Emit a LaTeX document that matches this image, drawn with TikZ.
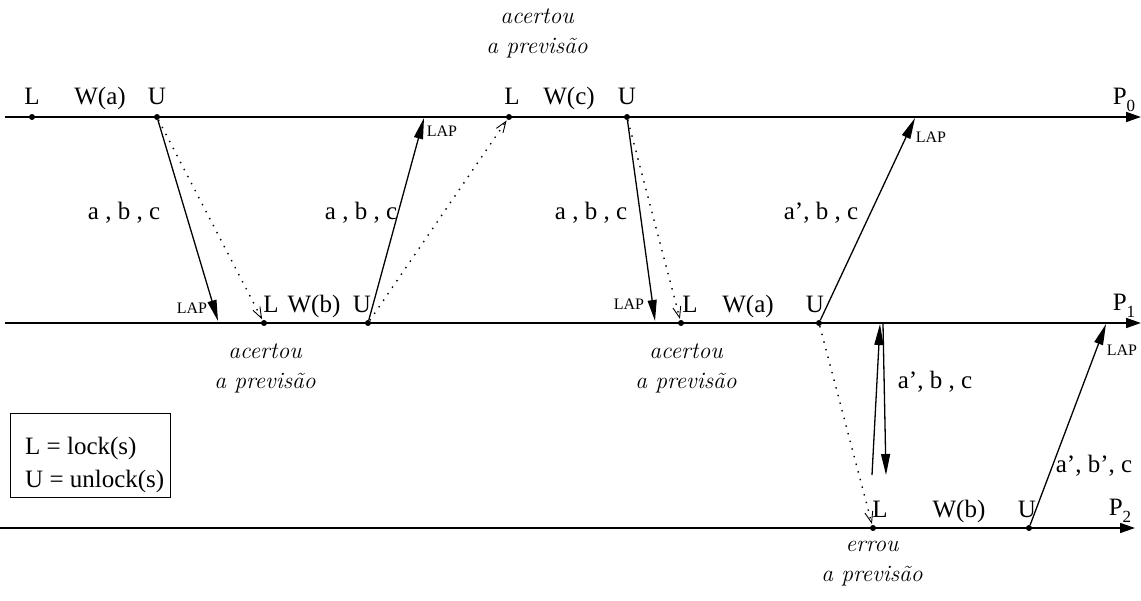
\documentclass[tikz,border=0pt]{standalone}
\usepackage{fontspec}
\setmainfont{Liberation Serif}
\newfontfamily\lmfont{Latin Modern Roman}
\usetikzlibrary{arrows.meta}
\newcommand{\sub}[1]{\raisebox{-7pt}{\fontsize{17}{17}\selectfont #1}}
\begin{document}
\begin{tikzpicture}[x=1pt,y=-1pt,
  proc/.style={line width=1.7pt,-{Triangle[length=15pt,width=10pt]}},
  msg/.style={line width=1.3pt,-{Triangle[length=21pt,width=9pt]}},
  spec/.style={line width=1.4pt,dash pattern=on 1.4pt off 6.5pt,shorten >=1pt,-{Straight Barb[length=11pt,width=8pt,line width=0.9pt]}},
  ev/.style={circle,fill,inner sep=0pt,minimum size=6pt},
  lab/.style={font=\fontsize{25}{28}\selectfont,anchor=base,inner sep=0pt},
  lap/.style={font=\fontsize{16}{18}\selectfont,inner sep=0pt},
  itl/.style={font=\lmfont\itshape\fontsize{23.5}{30}\selectfont,align=center,inner sep=0pt}
]
\useasboundingbox (0,0) rectangle (1141,601);
% process lines
\coordinate (p0s) at (5,117);  \coordinate (p0e) at (1141,117);
\coordinate (p1s) at (5,323);  \coordinate (p1e) at (1141,323);
\coordinate (p2s) at (0,528);  \coordinate (p2e) at (1135,528);
\draw[proc] (p0s) -- (p0e);
\draw[proc] (p1s) -- (p1e);
\draw[proc] (p2s) -- (p2e);
% events
\node[ev] (L0a) at (32,117) {};
\node[ev] (U0a) at (157,117) {};
\node[ev] (L0c) at (509,117) {};
\node[ev] (U0c) at (627,117) {};
\node[ev] (L1b) at (264,323) {};
\node[ev] (U1b) at (368,323) {};
\node[ev] (L1a) at (681,323) {};
\node[ev] (U1a) at (819,323) {};
\node[ev] (L2b) at (873,528) {};
\node[ev] (U2b) at (1029,528) {};
% free ends of messages
\coordinate (t1) at (218,321);
\coordinate (t2) at (424,118);
\coordinate (t3) at (655,321);
\coordinate (t4) at (915,118);
\coordinate (t5s) at (872,475);
\coordinate (t5e) at (880,324);
\coordinate (t6s) at (883,324);
\coordinate (t6e) at (886,475);
\coordinate (t7) at (1106,324);
% messages
\draw[msg] (U0a) -- (t1);
\draw[spec] (U0a) -- (L1b);
\draw[msg] (U1b) -- (t2);
\draw[spec] (U1b) -- (L0c);
\draw[msg] (U0c) -- (t3);
\draw[spec] (U0c) -- (L1a);
\draw[msg] (U1a) -- (t4);
\draw[spec] (U1a) -- (L2b);
\draw[msg] (t5s) -- (t5e);
\draw[msg] (t6s) -- (t6e);
\draw[msg] (U2b) -- (t7);
% labels on P0
\node[lab] (lL0a) at (32,105) {L};
\node[lab] (lW0a) at (100,105) {W(a)};
\node[lab] (lU0a) at (157,105) {U};
\node[lab] (lL0c) at (512,105) {L};
\node[lab] (lW0c) at (569,105) {W(c)};
\node[lab] (lU0c) at (627,105) {U};
\node[lab] (lP0) at (1124,105) {P\sub{0}};
% labels on P1
\node[lab] (lL1b) at (271,313) {L};
\node[lab] (lW1b) at (314,313) {W(b)};
\node[lab] (lU1b) at (362,313) {U};
\node[lab] (lL1a) at (690,313) {L};
\node[lab] (lW1a) at (748,313) {W(a)};
\node[lab] (lU1a) at (815,313) {U};
\node[lab] (lP1) at (1124,311) {P\sub{1}};
% labels on P2
\node[lab] (lL2b) at (880,517) {L};
\node[lab] (lW2b) at (959,517) {W(b)};
\node[lab] (lU2b) at (1027,517) {U};
\node[lab] (lP2) at (1120,515) {P\sub{2}};
% message labels
\node[lab,anchor=center] (m1) at (124,213) {a , b , c};
\node[lab,anchor=center] (m2) at (361,213) {a , b , c};
\node[lab,anchor=center] (m3) at (591,213) {a , b , c};
\node[lab,anchor=center] (m4) at (821,213) {a’, b , c};
\node[lab,anchor=center] (m5) at (935,382) {a’, b , c};
\node[lab,anchor=center] (m6) at (1094,466) {a’, b’, c};
% LAP labels
\node[lap] (lap1) at (192,308) {LAP};
\node[lap] (lap2) at (442,131) {LAP};
\node[lap] (lap3) at (629,304) {LAP};
\node[lap] (lap4) at (931,137) {LAP};
\node[lap] (lap5) at (1122,350) {LAP};
% prediction notes
\node[itl] (n0) at (537,33) {acertou\\a previsão};
\node[itl] (n1) at (265,368) {acertou\\a previsão};
\node[itl] (n2) at (686,368) {acertou\\a previsão};
\node[itl] (n3) at (872,564) {errou\\a previsão};
% legend
\node[draw,line width=1pt,anchor=north west,minimum width=160pt,minimum height=84pt,inner sep=0pt] (legend) at (10,413) {};
\node[lab,anchor=base west] (leg1) at (25,455) {L = lock(s)};
\node[lab,anchor=base west] (leg2) at (25,488) {U = unlock(s)};
\end{tikzpicture}
\end{document}
